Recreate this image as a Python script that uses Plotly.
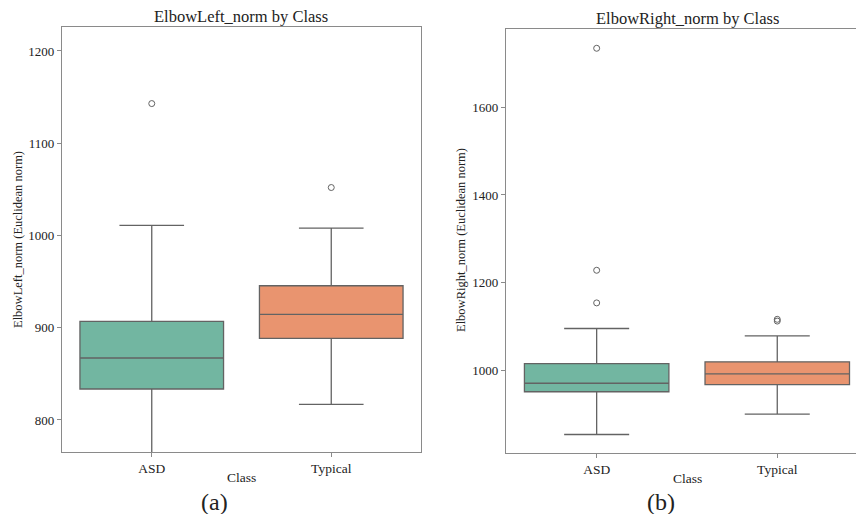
import plotly.graph_objects as go

# ---------------- data ----------------
classes = ["ASD", "Typical"]

left_q1 = [833.6, 888.4]
left_median = [867.2, 914.4]
left_q3 = [906.8, 945.5]
left_lower = [760.0, 817.0]
left_upper = [1011.0, 1008.0]
left_outlier_class = ["ASD", "Typical"]
left_outlier_vals = [1143.0, 1052.0]

right_q1 = [950.6, 967.0]
right_median = [970.0, 991.6]
right_q3 = [1015.0, 1019.0]
right_lower = [853.0, 899.7]
right_upper = [1095.0, 1078.0]
right_outlier_class = ["ASD", "ASD", "ASD", "Typical", "Typical"]
right_outlier_vals = [1735.0, 1228.0, 1153.5, 1112.0, 1116.0]

left_yticks = [800, 900, 1000, 1100, 1200]
right_yticks = [1000, 1200, 1400, 1600]

colors = ["#72b6a1", "#e9946f"]
line_col = "#636363"
axis_col = "#8a8a8a"
FONT = "Liberation Serif"

fig = go.Figure()

def add_boxes(q1, med, q3, lo, up, xa, ya):
    for i, c in enumerate(classes):
        fig.add_trace(go.Box(
            x=[c], q1=[q1[i]], median=[med[i]], q3=[q3[i]],
            lowerfence=[lo[i]], upperfence=[up[i]],
            fillcolor=colors[i], line=dict(color=line_col, width=1.3),
            width=0.8, whiskerwidth=0.45, boxpoints=False,
            xaxis=xa, yaxis=ya, showlegend=False, hoverinfo="skip"))

add_boxes(left_q1, left_median, left_q3, left_lower, left_upper, "x", "y")
add_boxes(right_q1, right_median, right_q3, right_lower, right_upper, "x2", "y2")

fig.add_trace(go.Scatter(x=left_outlier_class, y=left_outlier_vals, mode="markers",
                         marker=dict(symbol="circle-open", size=6, color=line_col, line=dict(width=1)),
                         xaxis="x", yaxis="y", showlegend=False))
fig.add_trace(go.Scatter(x=right_outlier_class, y=right_outlier_vals, mode="markers",
                         marker=dict(symbol="circle-open", size=6, color=line_col, line=dict(width=1)),
                         xaxis="x2", yaxis="y2", showlegend=False))

common_x = dict(type="category", categoryorder="array", categoryarray=classes,
                showline=True, linecolor=axis_col, linewidth=1.2,
                ticks="outside", ticklen=4, tickcolor=axis_col,
                tickfont=dict(family=FONT, size=13.5, color="#222"),
                showgrid=False, zeroline=False)
common_y = dict(showline=True, linecolor=axis_col, linewidth=1.2,
                ticks="outside", ticklen=4, tickcolor=axis_col,
                tickfont=dict(family=FONT, size=13, color="#222"),
                showgrid=False, zeroline=False)

W, H = 856, 514
fig.update_layout(
    width=W, height=H,
    margin=dict(l=0, r=0, t=0, b=0),
    paper_bgcolor="white", plot_bgcolor="white",
    xaxis=dict(common_x, domain=[62 / W, 421 / W], range=[-0.5, 1.5], anchor="y", mirror=True),
    yaxis=dict(common_y, domain=[1 - 452 / H, 1 - 27 / H], range=[765.3, 1226], anchor="x",
               mirror=True, tickvals=left_yticks),
    xaxis2=dict(common_x, domain=[506 / W, 1.0], range=[-0.502, 1.436], anchor="y2", mirror=True),
    yaxis2=dict(common_y, domain=[1 - 452.7 / H, 1 - 29 / H], range=[811.4, 1779], anchor="x2",
                mirror=False, tickvals=right_yticks),
)

ann_font = dict(family=FONT, color="#222")
anns = [
    dict(text="ElbowLeft_norm by Class", x=241 / W, y=1 - 17 / H, size=16.5),
    dict(text="ElbowRight_norm by Class", x=687 / W, y=1 - 19 / H, size=16.5),
    dict(text="Class", x=241 / W, y=1 - 477 / H, size=13.5),
    dict(text="Class", x=687 / W, y=1 - 478 / H, size=13.5),
    dict(text="(a)", x=214 / W, y=1 - 502 / H, size=24),
    dict(text="(b)", x=661 / W, y=1 - 502 / H, size=24),
]
for a in anns:
    fig.add_annotation(text=a["text"], x=a["x"], y=a["y"], xref="paper", yref="paper",
                       showarrow=False, xanchor="center", yanchor="middle",
                       font=dict(ann_font, size=a["size"]))
fig.add_annotation(text="ElbowLeft_norm (Euclidean norm)", x=18 / W, y=1 - 240 / H,
                   xref="paper", yref="paper", showarrow=False, textangle=-90,
                   xanchor="center", yanchor="middle", font=dict(ann_font, size=12.5))
fig.add_annotation(text="ElbowRight_norm (Euclidean norm)", x=461 / W, y=1 - 240 / H,
                   xref="paper", yref="paper", showarrow=False, textangle=-90,
                   xanchor="center", yanchor="middle", font=dict(ann_font, size=12.5))

fig.write_html("out.html", config={"displayModeBar": False},
               post_script="document.body.style.margin='0';document.body.style.overflow='hidden';")
